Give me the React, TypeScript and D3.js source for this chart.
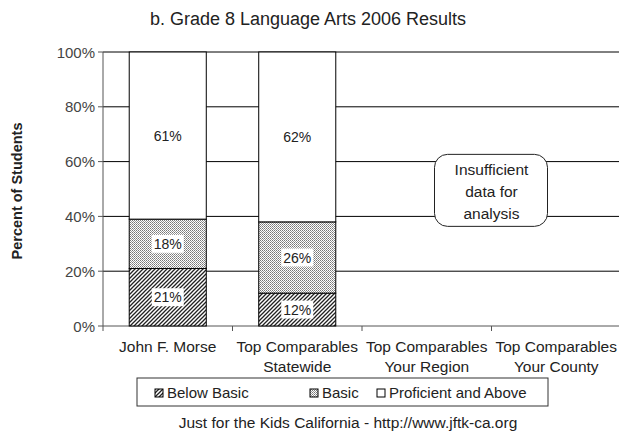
import React from "react";
import * as d3 from "d3";

const categories = ["John F. Morse", "Top Comparables\nStatewide", "Top Comparables\nYour Region", "Top Comparables\nYour County"];
const seriesNames = ["Below Basic", "Basic", "Proficient and Above"];
const belowBasic = [21, 12, null, null];
const basic = [18, 26, null, null];
const proficient = [61, 62, null, null];
const yTicks = [0, 20, 40, 60, 80, 100];

const W = 619, H = 436;
const M = { left: 103, right: 621, top: 52, bottom: 326 };
const FONT = "'Liberation Sans', Arial, sans-serif";

export default function App() {
  const x = d3.scaleBand<string>().domain(categories).range([M.left, M.right]).paddingInner(0.405).paddingOuter(0.2025);
  const y = d3.scaleLinear().domain([0, 100]).range([M.bottom, M.top]);
  const band = d3.scaleBand<string>().domain(categories).range([M.left, M.right]);
  const fills = ["url(#hatch)", "url(#dots)", "#fff"];
  const series = [belowBasic, basic, proficient];
  const rows = categories.map((c, i) => ({ cat: c, "0": belowBasic[i] ?? 0, "1": basic[i] ?? 0, "2": proficient[i] ?? 0, has: belowBasic[i] != null }));
  const stack = d3.stack<any>().keys(["0", "1", "2"])(rows);

  const boxCx = band(categories[3])!;
  const boxCy = y(49.5);

  return (
    <svg width={W} height={H} style={{ position: "absolute", left: 0, top: 0 }} fontFamily={FONT}>
      <defs>
        <pattern id="hatch" patternUnits="userSpaceOnUse" width="4" height="4">
          <rect width="4" height="4" fill="#fff" />
          <path d="M-1,1 l2,-2 M0,4 l4,-4 M3,5 l2,-2" stroke="#222" strokeWidth="1.3" />
        </pattern>
        <pattern id="dots" patternUnits="userSpaceOnUse" width="2" height="2">
          <rect width="2" height="2" fill="#fff" />
          <rect width="1" height="1" fill="#777" />
          <rect x="1" y="1" width="1" height="1" fill="#999" />
        </pattern>
      </defs>
      <rect width={W} height={H} fill="#fff" />
      <text x={308} y={25} textAnchor="middle" fontSize={18} fill="#222">b. Grade 8 Language Arts 2006 Results</text>
      <text transform={`translate(22,${(M.top + M.bottom) / 2 + 2}) rotate(-90)`} textAnchor="middle" fontSize={14.5} fontWeight="bold" fill="#222">Percent of Students</text>
      {yTicks.map(t => (
        <g key={t}>
          {t > 0 && <line x1={M.left} x2={W} y1={y(t)} y2={y(t)} stroke="#000" strokeWidth={1} />}
          <line x1={M.left - 5} x2={M.left} y1={y(t)} y2={y(t)} stroke="#555" />
          <text x={M.left - 8} y={y(t) + 5.5} textAnchor="end" fontSize={15} fill="#444">{t}%</text>
        </g>
      ))}
      <line x1={M.left} x2={M.left} y1={M.top} y2={M.bottom} stroke="#555" />
      <line x1={M.left} x2={W} y1={M.bottom} y2={M.bottom} stroke="#555" />
      {categories.map((c, i) => (
        <line key={i} x1={band(c)!} x2={band(c)!} y1={M.bottom} y2={M.bottom + 5} stroke="#555" />
      ))}
      {stack.map((s, si) => (
        <g key={si}>
          {s.map((d, i) => rows[i].has ? (
            <rect key={i} x={x(categories[i])} width={x.bandwidth()} y={y(d[1])} height={y(d[0]) - y(d[1])} fill={fills[si]} stroke="#000" strokeWidth={1} />
          ) : null)}
        </g>
      ))}
      {stack.map((s, si) => (
        <g key={"l" + si}>
          {s.map((d, i) => {
            const v = series[si][i];
            if (v == null) return null;
            const cx = x(categories[i])! + x.bandwidth() / 2;
            const cy = y((d[0] + d[1]) / 2);
            return (
              <g key={i}>
                <rect x={cx - 16} y={cy - 9} width={32} height={18} fill="#fff" />
                <text x={cx} y={cy + 5} textAnchor="middle" fontSize={14} fill="#222">{v}%</text>
              </g>
            );
          })}
        </g>
      ))}
      {categories.map((c, i) => c.split("\n").map((ln, j) => (
        <text key={i + "-" + j} x={band(c)! + band.bandwidth() / 2} y={352 + j * 20} textAnchor="middle" fontSize={15.5} fill="#222">{ln}</text>
      )))}
      <rect x={boxCx - 57} y={boxCy - 36} width={113} height={72} rx={13} fill="#fff" stroke="#222" />
      {["Insufficient", "data for", "analysis"].map((t, i) => (
        <text key={t} x={boxCx} y={boxCy - 15 + i * 22} textAnchor="middle" fontSize={15.5} fill="#222">{t}</text>
      ))}
      <rect x={137} y={378} width={411} height={28} fill="#fff" stroke="#333" />
      {seriesNames.map((n, i) => {
        const lx = [155, 310, 377][i];
        const tx = [167, 322, 389][i];
        return (
          <g key={n}>
            <rect x={lx} y={389} width={8} height={8} fill={fills[i]} stroke="#000" />
            <text x={tx} y={398} fontSize={15} fill="#222">{n}</text>
          </g>
        );
      })}
      <text x={348} y={428} textAnchor="middle" fontSize={15.5} fill="#222">Just for the Kids California - http://www.jftk-ca.org</text>
    </svg>
  );
}
